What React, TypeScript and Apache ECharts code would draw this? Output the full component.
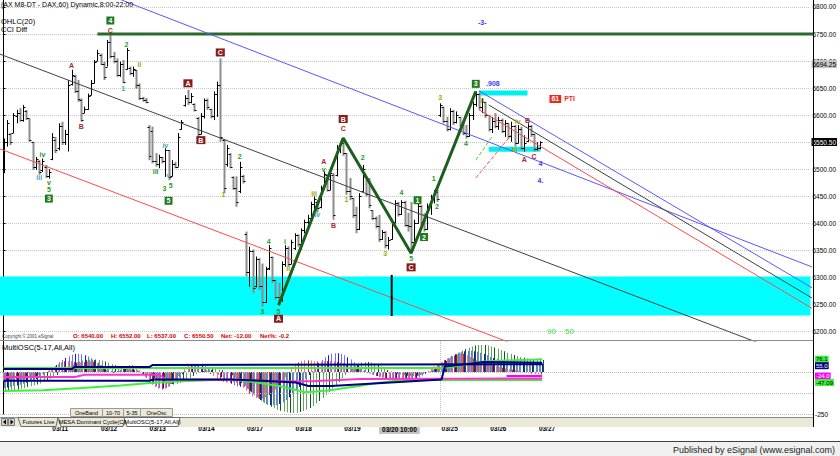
import React, { useEffect, useRef } from 'react';
import * as echarts from 'echarts';

const FONT = "'Liberation Sans', Arial, sans-serif";

// ---------- texts ----------
const chartTitle = '(AX M8-DT - DAX,60) Dynamic,8:00-22:00';
const studyNames = ['OHLC(20)', 'CCI Diff'];
const oscName = 'MultiOSC(5-17,All,All)';
const copyright = 'Copyright \u00a9 2001 eSignal';
const publisher = 'Published by eSignal (www.esignal.com)';
const tabNames = ['Futures Live', 'MESA Dominant Cycle(C)', 'MultiOSC(5-17,All,All)'];
const buttonNames = ['OneBand', '10-70', '5-35', 'OneOsc'];

// ---------- time axis ----------
const dayStarts = [15, 30, 45, 60, 75, 90, 105, 135, 150, 165];
const dayNames = ['03/11', '03/12', '03/13', '03/14', '03/17', '03/18', '03/19', '03/25', '03/26', '03/27'];
const cursorBar = 122;
const cursorName = '03/20 10:00';

// ---------- hourly OHLC bars: [open, high, low, close] ----------
const priceBars: number[][] = [
  // 03/10
  [6500, 6557, 6493, 6550], [6550, 6591, 6542, 6585], [6565, 6567, 6545, 6550], [6568, 6604, 6567, 6600],
  [6598, 6610, 6585, 6605], [6605, 6613, 6588, 6592], [6592, 6619, 6588, 6615], [6608, 6610, 6591, 6595],
  [6594, 6594, 6551, 6555], [6551, 6551, 6499, 6505], [6505, 6523, 6499, 6520], [6515, 6517, 6490, 6495],
  [6498, 6520, 6495, 6515], [6505, 6508, 6484, 6488], [6488, 6500, 6483, 6495],
  // 03/11
  [6520, 6567, 6517, 6560], [6555, 6560, 6530, 6535], [6540, 6585, 6535, 6580], [6580, 6588, 6545, 6550],
  [6550, 6573, 6545, 6565], [6565, 6665, 6533, 6655], [6658, 6684, 6655, 6675], [6672, 6675, 6641, 6645],
  [6645, 6665, 6625, 6630], [6628, 6631, 6588, 6592], [6605, 6616, 6604, 6612], [6612, 6640, 6610, 6636],
  [6638, 6665, 6637, 6660], [6660, 6702, 6659, 6698], [6700, 6721, 6700, 6715],
  // 03/12
  [6712, 6714, 6693, 6695], [6694, 6699, 6665, 6670], [6690, 6739, 6690, 6735], [6735, 6753, 6705, 6710],
  [6710, 6717, 6696, 6700], [6700, 6705, 6671, 6675], [6675, 6699, 6671, 6695], [6695, 6702, 6659, 6662],
  [6686, 6724, 6684, 6720], [6688, 6690, 6674, 6678], [6678, 6690, 6671, 6686], [6684, 6684, 6650, 6655],
  [6655, 6659, 6628, 6632], [6632, 6634, 6625, 6628], [6628, 6632, 6622, 6625],
  // 03/13
  [6578, 6582, 6517, 6525], [6570, 6579, 6511, 6515], [6515, 6530, 6505, 6510], [6510, 6527, 6502, 6522],
  [6522, 6523, 6511, 6515], [6515, 6539, 6486, 6535], [6535, 6536, 6480, 6485], [6488, 6517, 6487, 6510],
  [6510, 6514, 6502, 6505], [6505, 6567, 6505, 6560], [6575, 6591, 6573, 6588], [6618, 6637, 6616, 6632],
  [6632, 6647, 6619, 6625], [6625, 6641, 6622, 6635], [6620, 6622, 6607, 6610],
  // 03/14
  [6595, 6597, 6560, 6565], [6565, 6604, 6565, 6598], [6598, 6631, 6594, 6628], [6628, 6631, 6610, 6615],
  [6612, 6612, 6594, 6598], [6598, 6644, 6591, 6640], [6640, 6662, 6597, 6655], [6655, 6705, 6551, 6560],
  [6555, 6556, 6456, 6465], [6510, 6545, 6505, 6540], [6528, 6530, 6502, 6505], [6485, 6487, 6462, 6465],
  [6465, 6487, 6431, 6440], [6460, 6514, 6456, 6505], [6488, 6490, 6474, 6478],
  // 03/17
  [6380, 6385, 6302, 6310], [6310, 6357, 6283, 6350], [6350, 6352, 6271, 6280], [6285, 6339, 6282, 6335],
  [6335, 6336, 6277, 6285], [6285, 6326, 6246, 6255], [6255, 6320, 6253, 6315], [6318, 6360, 6314, 6355],
  [6338, 6339, 6290, 6295], [6295, 6296, 6259, 6265], [6265, 6290, 6249, 6258], [6258, 6330, 6255, 6325],
  [6325, 6360, 6320, 6355], [6355, 6358, 6320, 6325], [6325, 6370, 6325, 6365],
  // 03/18
  [6355, 6382, 6351, 6378], [6378, 6380, 6357, 6362], [6362, 6391, 6351, 6388], [6388, 6407, 6382, 6402],
  [6402, 6416, 6394, 6410], [6410, 6440, 6408, 6436], [6436, 6450, 6425, 6445], [6440, 6443, 6420, 6428],
  [6430, 6470, 6428, 6465], [6468, 6496, 6465, 6492], [6490, 6490, 6459, 6462], [6462, 6496, 6462, 6494],
  [6490, 6493, 6407, 6415], [6490, 6545, 6487, 6540], [6540, 6550, 6530, 6548],
  // 03/19
  [6548, 6558, 6525, 6530], [6530, 6530, 6453, 6460], [6460, 6484, 6443, 6450], [6447, 6447, 6410, 6415],
  [6415, 6431, 6382, 6390], [6390, 6456, 6388, 6450], [6460, 6508, 6459, 6500], [6485, 6486, 6450, 6455],
  [6455, 6484, 6428, 6435], [6425, 6425, 6406, 6410], [6410, 6413, 6391, 6395], [6395, 6416, 6366, 6372],
  [6372, 6388, 6370, 6385], [6385, 6386, 6354, 6360], [6360, 6375, 6352, 6370],
  // 03/20
  [6372, 6407, 6370, 6402], [6402, 6443, 6400, 6438], [6438, 6440, 6413, 6418], [6418, 6443, 6416, 6440],
  [6440, 6442, 6394, 6398], [6398, 6420, 6385, 6395], [6395, 6440, 6345, 6365], [6365, 6407, 6362, 6400],
  [6400, 6437, 6400, 6432], [6432, 6434, 6397, 6402], [6402, 6419, 6385, 6390], [6390, 6437, 6388, 6432],
  [6432, 6453, 6416, 6448], [6448, 6462, 6437, 6458], [6458, 6462, 6440, 6445],
  // 03/25
  [6600, 6622, 6597, 6618], [6615, 6616, 6585, 6590], [6590, 6597, 6570, 6575], [6575, 6613, 6572, 6608],
  [6608, 6610, 6582, 6588], [6588, 6607, 6585, 6600], [6596, 6597, 6579, 6582], [6582, 6588, 6563, 6568],
  [6568, 6582, 6557, 6562], [6562, 6604, 6560, 6600], [6600, 6625, 6591, 6620], [6620, 6644, 6616, 6640],
  [6640, 6642, 6610, 6615], [6615, 6631, 6604, 6625], [6625, 6625, 6595, 6600],
  // 03/26
  [6600, 6600, 6570, 6575], [6575, 6597, 6567, 6590], [6590, 6604, 6576, 6580], [6580, 6597, 6573, 6592],
  [6592, 6594, 6567, 6570], [6570, 6591, 6560, 6585], [6585, 6585, 6557, 6562], [6562, 6588, 6551, 6580],
  [6580, 6582, 6542, 6548], [6548, 6582, 6548, 6575], [6575, 6579, 6536, 6540], [6540, 6563, 6533, 6548],
  [6552, 6585, 6551, 6580], [6580, 6582, 6560, 6565], [6565, 6566, 6533, 6538],
  // 03/27
  [6538, 6550, 6535, 6540], [6540, 6552, 6537, 6550.5],
];
const lastNet = -12.0;
const lastNetPct = -0.2;
const cursorPrice = 6694.25;

// ---------- drawn studies on the price panel ----------
const demandZone = [6230, 6302];
const level6750 = [[29, 6750], [252, 6750]];
const channelTop = [[36.4, 6813], [252, 6315]];
const channelMid = [[-1.2, 6713], [245, 6153]];
const channelLow = [[-1.2, 6538], [160, 6172]];
const fanTop = [[147, 6645], [252, 6274]];
const fanMid = [[150, 6619], [252, 6255]];
const fanLow = [[147, 6610], [252, 6236]];
const zigzag = [[85, 6249], [105, 6558], [126, 6345], [146, 6644]];
const targetHigh = [[147, 6641], [162, 6641]];
const targetLow = [[150, 6537], [166, 6537]];
const fanArcGreen = [[146, 6517], [151, 6560]];
const fanArcRed = [[146, 6484], [157, 6564]];
const markerBar = [[120, 6305], [120, 6229]];

// wave labels: [bar index, price, text, kind]
const waveLabels: [number, number, string, string][] = [
  [12, 6528, 'iv', 'green'], [11, 6485, 'iii', 'teal'], [14, 6476, 'v', 'green'], [14, 6462, '5', 'green'],
  [14, 6446, '3', 'gBox'],
  [21, 6692, 'A', 'maroon'], [24, 6579, 'B', 'maroon'],
  [33, 6775, '4', 'gBox'], [33, 6757, 'C', 'maroon'], [37, 6649, '1', 'teal'], [38, 6731, '2', 'green'],
  [42, 6693, 'ii', 'olive'], [41, 6654, 'i', 'green'],
  [47, 6496, 'iii', 'green'], [50, 6544, 'iv', 'teal'], [51, 6488, 'v', 'teal'], [49.7, 6465, '3', 'green'],
  [51.7, 6471, '5', 'green'], [51, 6442, '5', 'gBox'], [57, 6659, 'A', 'rBox'],
  [61, 6554, 'B', 'rBox'], [67, 6716, 'C', 'rBox'], [68, 6453, '1', 'olive'], [73, 6523, '2', 'green'],
  [80, 6238, '3', 'green'], [82, 6366, '4', 'green'], [85, 6238, '5', 'green'], [85, 6224, 'A', 'rBox'],
  [87, 6366, 'i', 'green'], [88, 6316, 'ii', 'olive'],
  [96, 6455, 'iii', 'olive'], [97, 6416, 'iv', 'teal'], [99, 6499, 'v', 'green'], [99, 6515, 'A', 'maroon'],
  [102, 6397, 'B', 'maroon'], [105, 6593, 'B', 'rBox'], [105, 6575, 'C', 'maroon'],
  [106, 6445, '1', 'olive'], [111, 6522, '2', 'green'], [118, 6345, '3', 'olive'],
  [123, 6458, '4', 'green'], [126, 6335, '5', 'green'], [126, 6319, 'C', 'rBox'], [128, 6443, '1', 'gBox'],
  [130, 6375, '2', 'gBox'], [133, 6484, '1', 'green'], [134, 6431, '2', 'green'],
  [135, 6632, '3', 'olive'], [143, 6547, '4', 'green'], [146, 6658, '3', 'gBox'], [151.3, 6658, '.908', 'blue'],
  [148, 6628, 'ii', 'olive'], [148, 6772, '-3-', 'blue'],
  [158, 6536, 'iii', 'olive'], [159, 6588, 'iv', 'olive'], [161, 6519, 'A', 'maroon'], [162, 6591, 'B', 'maroon'],
  [164, 6523, 'C', 'maroon'], [166, 6510, '4', 'blue'], [166, 6480, '4.', 'blue'],
  [170.6, 6630, '61', 'pBox'], [175, 6630, 'PTI', 'red'], [169.4, 6201, '90', 'lime'], [175, 6201, '50', 'lime'],
];

// ---------- MultiOSC histograms ----------
const oscRed = [
  -54, -52, -50, -46, -44, -44, -42, -38, -34, -30, -24,
  -18, -10, -2, 8, 20, 34, 48, 58, 64, 66,
  64, 60, 58, 56, 58, 62, 64, 60, 52, 40,
  26, 12, 0, -6, -4, 8, 24, 36, 42, 40,
  28, 10, -10, -32, -54, -74, -90, -100, -104, -100,
  -88, -70, -48, -24, 0, 20, 36, 44, 46, 40,
  30, 18, 4, -12, -26, -40, -52, -60, -64, -62,
  -60, -66, -78, -94, -112, -130, -146, -156, -160, -158,
  -150, -138, -122, -104, -82, -58, -32, -6, 18, 40,
  56, 66, 70, 70, 68, 64, 62, 62, 64, 66,
  66, 64, 60, 56, 52, 46, 40, 32, 24, 16,
  8, 0, -8, -16, -24, -32, -40, -46, -50, -52,
  -52, -50, -48, -46, -44, -40, -34, -26, -16, -4,
  8, 20, 32, 45, 58, 70, 80, 90, 98, 105,
  110, 108, 100, 90, 80, 70, 62, 55, 50, 45,
  40, 35, 30, 26, 22, 18, 14, 10, 6, 2,
  -2, -6, -9, -12, -14, -15,
];
const oscBlue = [
  -95, -92, -88, -84, -80, -76, -70, -64, -58, -50, -42,
  -32, -20, -6, 10, 26, 42, 58, 72, 84, 94,
  102, 107, 108, 106, 100, 92, 82, 70, 56, 42,
  28, 16, 8, 4, 6, 12, 18, 22, 22, 18,
  10, -2, -18, -36, -55, -72, -86, -95, -98, -95,
  -86, -72, -54, -34, -14, 4, 20, 32, 40, 42,
  40, 34, 24, 12, -2, -16, -30, -44, -58, -70,
  -80, -86, -88, -90, -100, -115, -132, -150, -166, -180,
  -190, -196, -198, -196, -190, -180, -166, -150, -132, -112,
  -90, -66, -42, -18, 6, 30, 52, 72, 88, 100,
  108, 112, 112, 108, 100, 88, 74, 58, 42, 26,
  12, 0, -10, -18, -24, -28, -32, -36, -40, -44,
  -48, -50, -52, -52, -50, -46, -40, -32, -22, -10,
  2, 16, 30, 44, 58, 72, 84, 96, 106, 114,
  120, 124, 126, 126, 124, 120, 114, 107, 99, 90,
  84, 78, 72, 67, 63, 60, 57, 55, 53, 52,
  51, 50, 50, 50, 50, 50,
];
const oscGreen = [
  -113, -112, -110, -108, -105, -100, -95, -90, -85, -80, -75,
  -68, -60, -50, -40, -30, -18, -5, 8, 20, 32,
  45, 55, 62, 68, 72, 74, 75, 74, 72, 68,
  62, 55, 48, 40, 32, 25, 20, 16, 14, 12,
  8, 2, -6, -15, -25, -35, -45, -55, -62, -68,
  -72, -74, -72, -66, -58, -48, -36, -24, -12, -2,
  6, 12, 16, 18, 18, 15, 10, 2, -8, -20,
  -34, -50, -66, -84, -102, -120, -138, -155, -170, -184,
  -196, -207, -216, -224, -231, -236, -240, -243, -244, -242,
  -238, -232, -224, -214, -202, -188, -172, -155, -137, -118,
  -98, -78, -58, -38, -18, 2, 20, 36, 48, 56,
  60, 60, 56, 50, 42, 32, 22, 12, 4, -4,
  -10, -15, -19, -22, -24, -24, -22, -18, -12, -5,
  4, 14, 25, 38, 52, 66, 80, 94, 106, 118,
  128, 137, 145, 152, 157, 160, 161, 160, 157, 152,
  146, 139, 131, 123, 115, 108, 101, 95, 90, 85,
  81, 78, 75, 73, 72, 71,
];
// MultiOSC band lines: [bar index, value]
const limeUpper = [[0, 24], [135, 24], [138, 30], [141, 40], [144, 52], [148, 62], [153, 67], [160, 72], [166, 76.1]];
const limeLower = [[0, -113], [12, -108], [24, -95], [36, -80], [45, -65], [55, -55], [65, -48], [71, -46], [78, -62],
  [85, -83], [93, -121], [100, -110], [108, -88], [115, -66], [122, -50], [130, -47], [166, -47.09]];
const navyUpper = [[0, 18], [21, 18], [22, 30], [45, 30], [46, 42], [166, 46]];
const navyLower = [[0, -52], [45, -52], [46, -45], [70, -45], [80, -52], [90, -62], [94, -83], [101, -83],
  [135, -44], [136, 32], [148, 60], [166, 55]];
const magentaLine = [[0, -30], [22, -30], [25, -16], [48, -16], [50, -44], [75, -46], [82, -55], [95, -55],
  [100, -50], [110, -42], [135, -40], [166, -38]];
const magentaShort = [[155, -24], [166, -24]];
const oscEndLabels: [number, string, string][] = [
  [76.1, '76.1', 'lime'], [55, '55.0', 'navy'], [-24, '-24.0', 'mag'], [-47.09, '-47.09', 'lime'],
];

// ---------- axis extents ----------
const X_MIN = -1.116, X_MAX = 249.5;
const P_MIN = 6182.9, P_MAX = 6812.9;
const O_MIN = -250, O_MAX = 184.5;

const labelKinds: Record<string, any> = {
  gBox: { color: '#fff', backgroundColor: '#1d7a1d', padding: [1, 2, 0, 2] },
  rBox: { color: '#fff', backgroundColor: '#861c1c', padding: [1, 2, 0, 2] },
  pBox: { color: '#fff', backgroundColor: '#ee2a22', padding: [1, 2, 0, 2] },
  green: { color: '#1e9a1e' },
  maroon: { color: '#a52a2a' },
  olive: { color: '#a8a200' },
  teal: { color: '#3ea5b8' },
  blue: { color: '#3a3aff' },
  lime: { color: '#33dd33', fontSize: 8, fontWeight: 'normal' },
  red: { color: '#ee2a22' },
};
const endLabelStyles: Record<string, any> = {
  lime: { bg: '#3cf03c', fg: '#000' },
  navy: { bg: '#000080', fg: '#fff' },
  mag: { bg: '#ff00ff', fg: '#fff' },
};

function priceLine(data: number[][], color: string, width = 1, z = 6, type = 'solid') {
  return {
    type: 'line', xAxisIndex: 0, yAxisIndex: 0, data, symbol: 'none', silent: true, z,
    lineStyle: { color, width, type }, clip: true,
  };
}
function oscLine(data: number[][], color: string, width = 2, z = 5) {
  return {
    type: 'line', xAxisIndex: 1, yAxisIndex: 2, data, symbol: 'none', silent: true, z,
    lineStyle: { color, width }, clip: true,
  };
}

function text(x: number, y: number, t: string, size: number, fill = '#000', align = 'left', weight = 'normal') {
  return {
    type: 'text', x, y, silent: true, z: 50,
    style: { text: t, fill, fontSize: size, fontFamily: FONT, fontWeight: weight, align, verticalAlign: 'middle', textAlign: align, textVerticalAlign: 'middle' },
  };
}

function buildGraphic() {
  const last = priceBars[priceBars.length - 1];
  const infoTexts = [
    `O: ${last[0].toFixed(2)}`, `H: ${last[1].toFixed(2)}`, `L: ${last[2].toFixed(2)}`,
    `C: ${last[3].toFixed(2)}`, `Net: ${lastNet.toFixed(2)}`, `Net%: ${lastNetPct.toFixed(1)}`,
  ];
  const infoX = [73, 111, 147, 184, 221, 260];
  return [
    text(1, 4, chartTitle, 7),
    text(1, 21, studyNames[0], 7.5),
    text(1, 29.5, studyNames[1], 7.5),
    text(2, 336.5, copyright, 4.5, '#444'),
    ...infoTexts.map((t, k) => text(infoX[k], 336, t, 6, '#e00000', 'left', 'bold')),
    { type: 'line', silent: true, z: 40, shape: { x1: 0, y1: 340.5, x2: 813, y2: 340.5 }, style: { stroke: '#8a8a8a', lineWidth: 1 } },
    text(2, 347, oscName, 7.5),
    ...[[70, 32], [102, 21], [123, 17], [140, 32]].flatMap(([bx, bw], k) => [
      { type: 'rect', silent: true, z: 45, shape: { x: bx + 0.5, y: 408.5, width: bw, height: 8 }, style: { fill: '#ece9d8', stroke: '#9a9a9a', lineWidth: 1 } },
      text(bx + bw / 2 + 0.5, 412.7, buttonNames[k], 5.5, '#000', 'center'),
    ]),
    { type: 'rect', silent: true, z: 40, shape: { x: 0, y: 417, width: 813, height: 10 }, style: { fill: '#ece9d8' } },
    { type: 'line', silent: true, z: 41, shape: { x1: 0, y1: 417.5, x2: 813, y2: 417.5 }, style: { stroke: '#8a8a8a', lineWidth: 1 } },
    { type: 'rect', silent: true, z: 42, shape: { x: 1.5, y: 418.5, width: 6, height: 7 }, style: { fill: '#d4d0c8', stroke: '#808080', lineWidth: 1 } },
    { type: 'polygon', silent: true, z: 43, shape: { points: [[6, 419.5], [6, 424.5], [3, 422]] }, style: { fill: '#000' } },
    { type: 'rect', silent: true, z: 42, shape: { x: 8.5, y: 418.5, width: 6, height: 7 }, style: { fill: '#d4d0c8', stroke: '#808080', lineWidth: 1 } },
    { type: 'polygon', silent: true, z: 43, shape: { points: [[10.5, 419.5], [10.5, 424.5], [13.5, 422]] }, style: { fill: '#000' } },
    ...[[18, 58], [58, 125], [124, 180]].flatMap(([a, b], k) => [
      {
        type: 'polygon', silent: true, z: k === 2 ? 44 : 42,
        shape: { points: [[a, 417.5], [b, 417.5], [b - 2, 426.5], [a + 3, 426.5]] },
        style: { fill: k === 2 ? '#ffffff' : '#ece9d8', stroke: '#6a6a6a', lineWidth: 1 },
      },
      { ...text((a + b) / 2 + 0.5, 422, tabNames[k], 5.8, '#000', 'center'), z: 51 },
    ]),
    { type: 'line', silent: true, z: 40, shape: { x1: 813.5, y1: 0, x2: 813.5, y2: 427 }, style: { stroke: '#000', lineWidth: 1 } },
    { type: 'rect', silent: true, z: 40, shape: { x: 0, y: 442, width: 840, height: 14 }, style: { fill: '#f0f0f0' } },
    { type: 'line', silent: true, z: 41, shape: { x1: 0, y1: 441.5, x2: 840, y2: 441.5 }, style: { stroke: '#404040', lineWidth: 1 } },
    text(835, 449.5, publisher, 9, '#222', 'right'),
  ];
}

function buildOption() {
  const last = priceBars[priceBars.length - 1];
  const dayMap: Record<number, string> = {};
  dayStarts.forEach((d, k) => { dayMap[d] = dayNames[k]; });

  const ohlcData = priceBars.map((b, i) => [i, b[0], b[1], b[2], b[3]]);
  const oscData = oscRed.map((r, i) => [i, r, oscBlue[i], oscGreen[i]]);
  const paleCols = ['#ff6e6e', '#6e6eff', '#5fa85f'];
  const solidCols = ['#ff1010', '#1010ff', '#0a600a'];

  return {
    animation: false,
    backgroundColor: '#ffffff',
    textStyle: { fontFamily: FONT },
    grid: [
      { left: 0, top: 0, width: 813, height: 341 },
      { left: 0, top: 341, width: 813, height: 73 },
    ],
    xAxis: [
      { type: 'value', gridIndex: 0, min: X_MIN, max: X_MAX, show: false },
      {
        type: 'value', gridIndex: 1, min: X_MIN, max: X_MAX, position: 'bottom',
        axisLine: { show: false }, axisTick: { show: false }, splitLine: { show: false },
        axisLabel: {
          customValues: dayStarts, formatter: (v: number) => dayMap[Math.round(v)] ?? '',
          align: 'left', margin: 11, fontSize: 6.5, fontWeight: 'bold', color: '#000', fontFamily: FONT,
        },
      },
      {
        type: 'value', gridIndex: 1, min: X_MIN, max: X_MAX, position: 'bottom',
        axisLine: { show: false }, axisTick: { show: false }, splitLine: { show: false },
        axisLabel: {
          customValues: [cursorBar], formatter: () => cursorName, align: 'center', margin: 10,
          fontSize: 6.5, fontWeight: 'bold', color: '#000', fontFamily: FONT,
          backgroundColor: '#c4c4c4', padding: [2, 3, 1, 3],
        },
      },
    ],
    yAxis: [
      {
        type: 'value', gridIndex: 0, position: 'right', min: P_MIN, max: P_MAX, splitNumber: 12,
        axisLine: { show: true, lineStyle: { color: '#000', width: 1 } },
        axisTick: { show: true, length: 2, lineStyle: { color: '#000' } },
        axisLabel: {
          formatter: (v: number) => v.toFixed(2), showMinLabel: false, showMaxLabel: false,
          fontSize: 6.5, color: '#000', margin: 2, fontFamily: FONT,
        },
        splitLine: { show: true, showMinLine: false, showMaxLine: false, lineStyle: { type: 'dotted', color: '#c4c4c4', width: 1 } },
      },
      {
        type: 'value', gridIndex: 0, position: 'right', min: P_MIN, max: P_MAX,
        axisLine: { show: false }, axisTick: { show: false }, splitLine: { show: false },
        axisLabel: {
          customValues: [cursorPrice, last[3]], margin: 1, fontFamily: FONT,
          formatter: (v: number) => (Math.abs(v - last[3]) < 0.01 ? `{last|${v.toFixed(2)}}` : `{cur|${v.toFixed(2)}}`),
          rich: {
            last: { backgroundColor: '#000', color: '#fff', fontSize: 6.5, padding: [1, 1, 0, 1], fontFamily: FONT },
            cur: { backgroundColor: '#c6c6c6', color: '#000', fontSize: 6.5, padding: [1, 1, 0, 1], fontFamily: FONT },
          },
        },
      },
      {
        type: 'value', gridIndex: 1, position: 'right', min: O_MIN, max: O_MAX,
        axisLine: { show: true, lineStyle: { color: '#000', width: 1 } }, axisTick: { show: false }, splitLine: { show: false },
        axisLabel: {
          formatter: (v: number) => (v === -250 ? '-250' : ''), showMinLabel: true, showMaxLabel: false,
          fontSize: 6.5, color: '#000', margin: 2, fontFamily: FONT,
        },
      },
    ],
    graphic: buildGraphic(),
    series: [
      {
        type: 'line', xAxisIndex: 0, yAxisIndex: 0, data: [[X_MIN, demandZone[0]]], symbol: 'none', silent: true, z: 1,
        lineStyle: { width: 0, opacity: 0 },
        markArea: { silent: true, itemStyle: { color: '#00ffff', opacity: 1 }, data: [[{ yAxis: demandZone[0] }, { yAxis: demandZone[1] }]] },
      },
      priceLine(targetHigh, '#00f0f0', 5, 3),
      priceLine(targetLow, '#00f0f0', 5, 3),
      {
        type: 'custom', xAxisIndex: 0, yAxisIndex: 0, z: 5, silent: true,
        data: ohlcData, encode: { x: 0, y: [1, 2, 3, 4] },
        renderItem: (_p: any, api: any) => {
          const i = api.value(0), o = api.value(1), h = api.value(2), l = api.value(3), c = api.value(4);
          const x = Math.round(api.coord([i, h])[0]) + 0.5;
          const yH = api.coord([i, h])[1], yL = api.coord([i, l])[1];
          const yO = Math.round(api.coord([i, o])[1]) + 0.5, yC = Math.round(api.coord([i, c])[1]) + 0.5;
          const children: any[] = [];
          if (c < o) {
            children.push({ type: 'rect', shape: { x: x - 1, y: yH, width: 2, height: Math.max(1, yL - yH) }, style: { fill: '#8c8c8c' } });
          } else {
            children.push({ type: 'line', shape: { x1: x, y1: yH, x2: x, y2: yL }, style: { stroke: '#000', lineWidth: 1 } });
          }
          children.push({ type: 'line', shape: { x1: x - 2, y1: yO, x2: x, y2: yO }, style: { stroke: '#000', lineWidth: 1 } });
          children.push({ type: 'line', shape: { x1: x, y1: yC, x2: x + 2, y2: yC }, style: { stroke: '#000', lineWidth: 1 } });
          return { type: 'group', children };
        },
      },
      priceLine(level6750, '#2a6a2a', 3, 6),
      priceLine(channelTop, '#5858ff', 1, 6),
      priceLine(channelMid, '#404040', 1, 6),
      priceLine(channelLow, '#ff4a4a', 1, 6),
      priceLine(fanTop, '#5858ff', 1, 6),
      priceLine(fanMid, '#404040', 1, 6),
      priceLine(fanLow, '#ff4a4a', 1, 6),
      priceLine(zigzag, '#1c5e1c', 3, 7),
      priceLine(fanArcGreen, '#55cc33', 1, 7, 'dashed'),
      priceLine(fanArcRed, '#ff5050', 1, 7, 'dashed'),
      priceLine(markerBar, '#000', 2, 7),
      {
        type: 'scatter', xAxisIndex: 0, yAxisIndex: 0, symbolSize: 1, itemStyle: { color: 'transparent', opacity: 1 }, z: 10, silent: true,
        data: waveLabels.map(([i, p, t, k]) => ({
          value: [i, p],
          label: {
            show: true, position: 'inside', formatter: t, fontSize: 7, fontWeight: 'bold', fontFamily: FONT,
            ...labelKinds[k],
          },
        })),
      },
      {
        type: 'custom', xAxisIndex: 1, yAxisIndex: 2, z: 2, silent: true,
        data: oscData, encode: { x: 0, y: [1, 2, 3] },
        renderItem: (_p: any, api: any) => {
          const i = api.value(0);
          const [cx, y0] = api.coord([i, 0]);
          const left = Math.round(cx) - 1;
          const solid = i % 3 === 1;
          const children = [1, 2, 3].map((k, j) => {
            const yv = api.coord([i, api.value(k)])[1];
            return {
              type: 'rect',
              shape: { x: left + j, y: Math.min(y0, yv), width: 1, height: Math.max(0.5, Math.abs(yv - y0)) },
              style: { fill: solid ? solidCols[j] : paleCols[j] },
            };
          });
          return { type: 'group', children };
        },
      },
      {
        ...oscLine(limeUpper, '#3cf03c', 2, 5),
        markLine: {
          silent: true, symbol: 'none', label: { show: false },
          lineStyle: { type: 'dotted', color: '#bdbdbd', width: 1 },
          data: [{ yAxis: 0 }, { yAxis: -125 }, { yAxis: -250 }, { xAxis: 134.5 }],
        },
      },
      oscLine(limeLower, '#3cf03c', 2, 5),
      oscLine(navyUpper, '#000080', 2, 6),
      oscLine(navyLower, '#000080', 2, 6),
      oscLine(magentaLine, '#ff33cc', 2, 5),
      oscLine(magentaShort, '#ff00ff', 2, 5),
    ],
  };
}

export default function App() {
  const ref = useRef<HTMLDivElement>(null);
  useEffect(() => {
    if (!ref.current) return;
    const chart = echarts.init(ref.current, undefined, { renderer: 'svg' });
    chart.setOption(buildOption() as any);
    // value tags at the oscillator's right edge, placed through the oscillator's y scale, stacked so they do not overlap
    let prev = -Infinity;
    const tags: any[] = [];
    oscEndLabels
      .map((l) => ({ l, y: chart.convertToPixel({ yAxisIndex: 2 } as any, l[0]) as number }))
      .sort((a, b) => a.y - b.y)
      .forEach(({ l, y }) => {
        const yy = Math.max(y, prev + 6.5);
        prev = yy;
        const st = endLabelStyles[l[2]];
        tags.push({
          type: 'text', x: 815, y: yy, silent: true, z: 60,
          style: {
            text: l[1], fill: st.fg, backgroundColor: st.bg, fontSize: 6, fontFamily: FONT,
            padding: [1, 1, 0, 1], align: 'left', verticalAlign: 'middle', textAlign: 'left', textVerticalAlign: 'middle',
          },
        });
      });
    chart.setOption({ graphic: [...buildGraphic(), ...tags] } as any);
    return () => chart.dispose();
  }, []);
  return <div ref={ref} style={{ position: 'fixed', left: 0, top: 0, width: 840, height: 456, background: '#fff' }} />;
}
